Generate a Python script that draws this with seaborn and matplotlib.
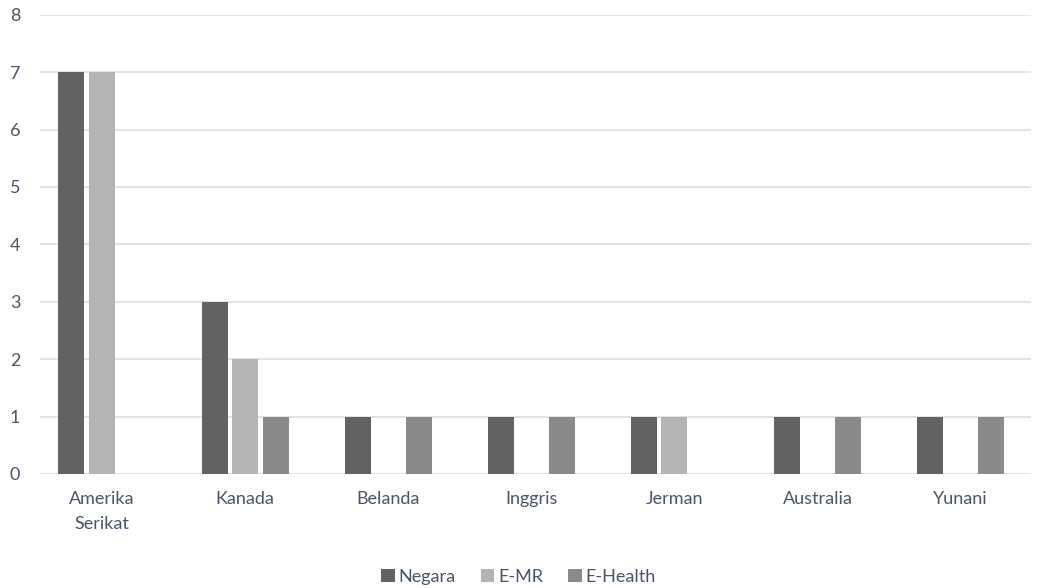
import pandas as pd
import seaborn as sns
import matplotlib.pyplot as plt

# data
negara_labels = ["Amerika\nSerikat", "Kanada", "Belanda", "Inggris", "Jerman", "Australia", "Yunani"]
series_names = ["Negara", "E-MR", "E-Health"]
negara = [7, 3, 1, 1, 1, 1, 1]
emr = [7, 2, 0, 0, 1, 0, 0]
ehealth = [0, 1, 1, 1, 0, 1, 1]
colors = ["#626262", "#b4b4b4", "#8a8a8a"]


def build_frame():
    rows = []
    for name, vals in zip(series_names, [negara, emr, ehealth]):
        for cat, v in zip(negara_labels, vals):
            rows.append({"kategori": cat, "seri": name, "nilai": v})
    return pd.DataFrame(rows)


def main():
    df = build_frame()
    sns.set_style("white")
    plt.rcParams["font.family"] = ["Lato", "DejaVu Sans"]
    text_color = "#4a5568"

    fig = plt.figure(figsize=(10.37, 5.88), dpi=100)
    ax = fig.add_axes([0.039, 0.194, 0.955, 0.781])

    sns.barplot(data=df, x="kategori", y="nilai", hue="seri",
                palette=colors, width=0.64, gap=0.15, ax=ax,
                saturation=1, linewidth=0, legend=True)

    ax.set_xlim(-0.43, 6.49)
    ax.set_ylim(0, 8)
    ax.set_yticks(range(0, 9))
    ax.grid(axis="y", color="#dde1e6", linewidth=1.3)
    ax.set_axisbelow(True)
    for s in ax.spines.values():
        s.set_visible(False)
    ax.tick_params(axis="both", length=0, labelsize=13, labelcolor=text_color)
    ax.tick_params(axis="y", pad=22)
    ax.tick_params(axis="x", pad=12)
    for lbl in ax.get_yticklabels():
        lbl.set_horizontalalignment("left")
    for lbl in ax.get_xticklabels():
        lbl.set_linespacing(1.75)
    ax.set_xlabel("")
    ax.set_ylabel("")

    handles, labels = ax.get_legend_handles_labels()
    ax.legend_.remove()
    fig.legend(handles, labels, loc="lower center", bbox_to_anchor=(0.5, -0.022),
               ncol=3, frameon=False, fontsize=13, labelcolor=text_color,
               handlelength=0.75, handleheight=0.75, handletextpad=0.2,
               columnspacing=1.4)

    fig.savefig("out.png", dpi=100)


if __name__ == "__main__":
    main()
